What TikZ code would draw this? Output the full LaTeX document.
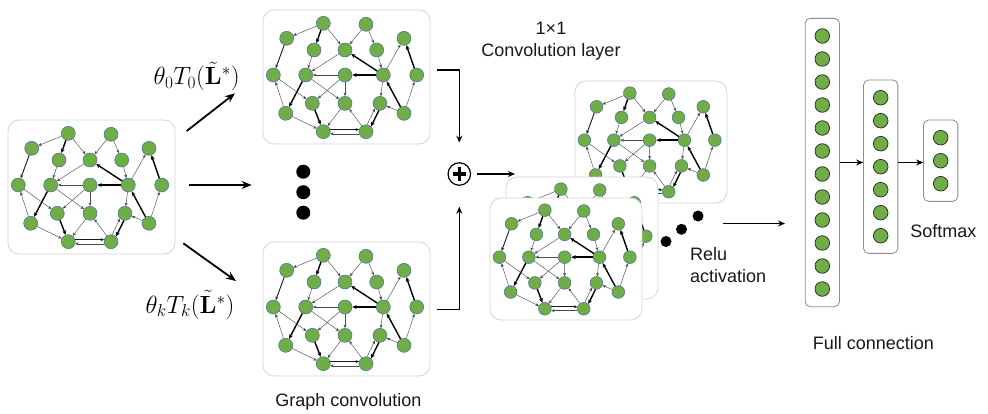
\documentclass[tikz,border=0pt]{standalone}
\usepackage{amsmath,amssymb}
\usepackage[no-math]{fontspec}
\newfontfamily\lblfont{Liberation Sans}
\usepackage{tikz}
\usetikzlibrary{arrows.meta,fit}
\definecolor{nodegreen}{RGB}{112,173,71}
\definecolor{nodeblue}{RGB}{65,113,156}
\definecolor{boxgray}{RGB}{212,212,212}
\definecolor{fcgray}{RGB}{140,140,140}
\tikzset{
gnode/.style={circle,minimum size=14pt,inner sep=0pt,fill=nodegreen,draw=nodeblue,line width=0.5pt},
gbox/.style={draw=boxgray,fill=white,line width=0.8pt,rounded corners=11pt},
gedge/.style={-{Stealth[length=3.5pt,width=3pt]},line width=0.45pt,black!70},
gmid/.style={-{Stealth[length=3.5pt,width=3pt]},line width=0.9pt,black!90},
gbold/.style={-{Stealth[length=4.5pt,width=3.8pt]},line width=1.4pt,black},
fcnode/.style={circle,minimum size=14.6pt,inner sep=0pt,fill=nodegreen,draw=black!85,line width=0.7pt},
fcbox/.style={draw=fcgray,line width=0.8pt,rounded corners=5pt,inner xsep=9.5pt,inner ysep=10pt},
bigarrow/.style={-{Stealth[length=10pt,width=8pt]},line width=1.8pt},
midarrow/.style={-{Stealth[length=7pt,width=6pt]},line width=1.3pt},
bigdot/.style={circle,fill=black,minimum size=#1,inner sep=0pt},
lbl/.style={font=\lblfont\fontsize{18}{22.7}\selectfont,text=black!90,inner sep=0pt},
mathlbl/.style={font=\fontsize{23.5}{28}\selectfont,inner sep=0pt}
}
% one graph in its rounded box: x, y of the box corner, scale, name
\newcommand{\drawGraph}[4]{
\begin{scope}[shift={(#1,#2)},scale=#3,transform shape]
\draw [gbox] (0,0) rectangle (167,134);
\node (#4-1) at (60.3,13.3) [gnode] {};\node (#4-2) at (103,14.3) [gnode] {};
\node (#4-3) at (23.7,28.3) [gnode] {};\node (#4-7) at (141,28.3) [gnode] {};
\node (#4-4) at (51,40) [gnode] {};\node (#4-5) at (82,40) [gnode] {};\node (#4-6) at (113.7,40) [gnode] {};
\node (#4-8) at (10.3,65) [gnode] {};\node (#4-9) at (42.7,65) [gnode] {};\node (#4-10) at (82,65) [gnode] {};
\node (#4-11) at (120.3,65) [gnode] {};\node (#4-12) at (153.7,65) [gnode] {};
\node (#4-13) at (49.3,93.3) [gnode] {};\node (#4-14) at (82,93.3) [gnode] {};\node (#4-15) at (117,93.3) [gnode] {};
\node (#4-16) at (22.7,103.3) [gnode] {};\node (#4-17) at (141,103.3) [gnode] {};
\node (#4-18) at (60.3,121.7) [gnode] {};\node (#4-19) at (103,121.7) [gnode] {};
%
\draw [gedge] (#4-1) -- (#4-3);\draw [gedge] (#4-1) -- (#4-5);\draw [gbold] (#4-1) -- (#4-4);
\draw [gedge] (#4-2) -- (#4-5);\draw [gedge] (#4-2) -- (#4-6);
\draw [gmid] (#4-3) -- (#4-8);\draw [gedge] (#4-4) -- (#4-9);\draw [gedge] (#4-5) -- (#4-9);
\draw [gedge] (#4-6) -- (#4-11);\draw [gbold] (#4-11) -- (#4-5);\draw [gedge] (#4-11) -- (#4-7);
\draw [gedge] (#4-10) -- (#4-9);\draw [gbold] (#4-11) -- (#4-10);
\draw [gbold] (#4-12) -- (#4-7);\draw [gedge] (#4-17) -- (#4-12);\draw [gbold] (#4-17) -- (#4-11);
\draw [gbold] (#4-9) -- (#4-16);\draw [gedge] (#4-16) -- (#4-8);\draw [gedge] (#4-8) -- (#4-13);
\draw [gedge] (#4-9) -- (#4-14);\draw [gedge] (#4-10) -- (#4-13);\draw [gedge] (#4-10) -- (#4-14);
\draw [gedge] (#4-11) -- (#4-15);\draw [gedge] (#4-17) -- (#4-15);
\draw [gbold] (#4-13) -- (#4-18);\draw [gedge] (#4-14) -- (#4-18);\draw [gedge] (#4-16) -- (#4-18);
\draw [gedge] (#4-19) -- (#4-14);
\draw [gmid] (#4-18.17) -- (#4-19.163);\draw [gedge] (#4-19.197) -- (#4-18.343);
\draw [gbold] (#4-15.261) -- (#4-19.46);\draw [gedge] (#4-19.81) -- (#4-15.226);
\end{scope}
}
% one column of the full connection: x, y of first node, count, name
\newcommand{\drawColumn}[4]{
\foreach \i in {1,...,#3} {\node (#4-\i) at (#1,#2+23*\i-23) [fcnode] {};}
\node (#4) [fcbox,fit=(#4-1)(#4-#3)] {};
}

\begin{document}
\begin{tikzpicture}[x=1pt,y=-1pt]
\useasboundingbox [fill=white] (0,0) rectangle (988,413);
%
\drawGraph{8}{120}{1}{in}
\drawGraph{263}{10}{1}{gz}
\drawGraph{263}{242}{1}{gk}
\node (tz) at (196.7,76.7) [mathlbl] {$\theta_0T_0(\tilde{\mathbf{L}}^*)$};
\node (tk) at (190,305) [mathlbl] {$\theta_kT_k(\tilde{\mathbf{L}}^*)$};
\node (gclbl) at (348.3,401.7) [lbl] {Graph convolution};
%
\coordinate (in-up) at (186.7,131);\coordinate (gz-in) at (235,93.3);
\coordinate (in-mid) at (189.3,185);\coordinate (dots-in) at (251.7,185);
\coordinate (in-low) at (183.3,243.3);\coordinate (gk-in) at (236,281);
\draw [bigarrow] (in-up) -- (gz-in);
\draw [bigarrow] (in-mid) -- (dots-in);
\draw [bigarrow] (in-low) -- (gk-in);
\node (vd1) at (303.3,171.7) [bigdot=14pt] {};
\node (vd2) at (303.3,192.2) [bigdot=14pt] {};
\node (vd3) at (303.3,212.7) [bigdot=14pt] {};
%
\node (plus) at (459.3,174) [circle,draw,line width=1.2pt,minimum size=22.5pt,inner sep=0pt] {};
\draw [line width=3.6pt] ([xshift=-6.8pt]plus.center) -- ([xshift=6.8pt]plus.center);
\draw [line width=3.6pt] ([yshift=-6.8pt]plus.center) -- ([yshift=6.8pt]plus.center);
\coordinate (gz-out) at (437.3,70);\coordinate (plus-top) at (459.3,142.7);
\coordinate (gk-out) at (437.3,309.3);\coordinate (plus-bot) at (459.3,206.7);
\draw [midarrow] (gz-out) -| (plus-top);
\draw [midarrow] (gk-out) -| (plus-bot);
\node (convlbl) at (551,41.3) [lbl,align=center] {1×1\\Convolution layer};
%
\drawGraph{575}{81}{0.91}{ra}
\drawGraph{506}{177}{0.91}{rb}
\drawGraph{490}{198}{0.91}{rc}
\coordinate (rb-in) at (515,174);
\draw [midarrow,shorten <=6pt] (plus.east) -- (rb-in);
\node (hd1) at (666,241.5) [bigdot=11pt] {};
\node (hd2) at (681.5,229.3) [bigdot=11pt] {};
\node (hd3) at (698,216) [bigdot=11pt] {};
\node (relulbl) at (690,265) [lbl,anchor=west,align=left] {Relu\\activation};
%
\drawColumn{822.3}{36}{12}{fca}
\drawColumn{880.7}{97.7}{7}{fcb}
\drawColumn{940.7}{137.7}{3}{fcc}
\coordinate (ra-out) at (723,223.5);\coordinate (fca-in) at (785,223.5);
\draw [midarrow,line width=1.1pt] (ra-out) -- (fca-in);
\draw [midarrow,line width=1.1pt] (fca.east) -- (fca.east -| fcb.west);
\draw [midarrow,line width=1.1pt] (fcb.east |- fca.east) -- (fca.east -| fcc.west);
\node (smlbl) at (943.3,230.7) [lbl] {Softmax};
\node (fclbl) at (873.3,343.3) [lbl] {Full connection};
\end{tikzpicture}
\end{document}
